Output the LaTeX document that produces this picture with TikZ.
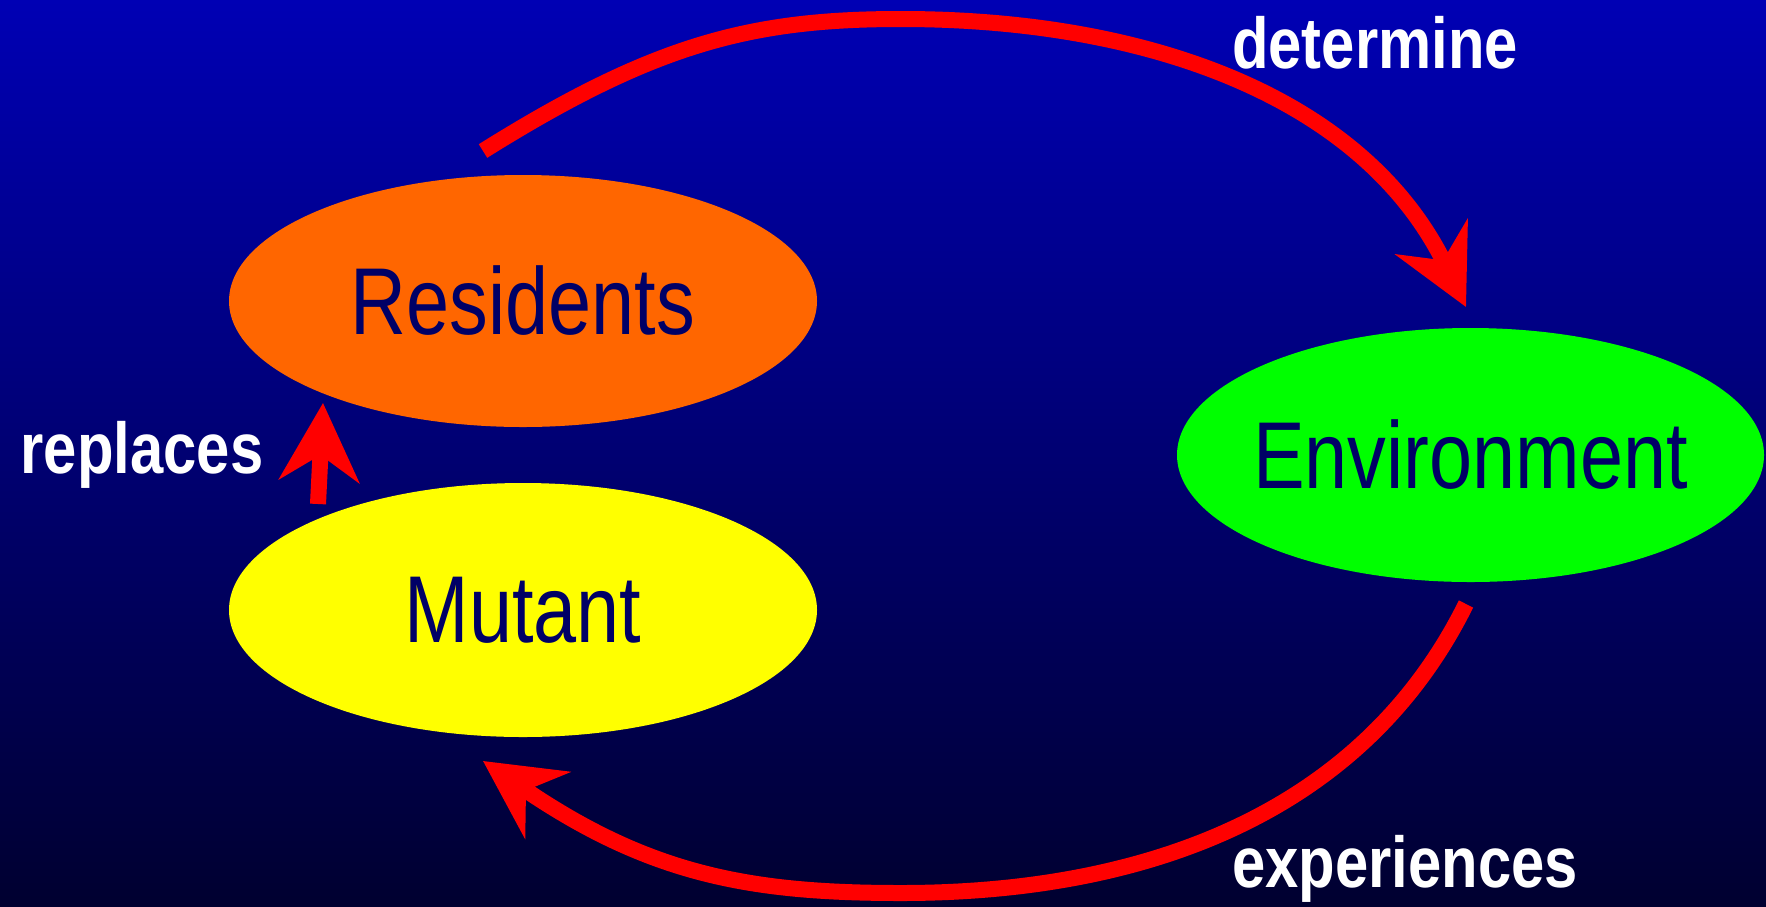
\documentclass[tikz,border=0pt]{standalone}
\usepackage{fontspec}
\usetikzlibrary{arrows.meta,shapes.geometric}
\newfontfamily\narrowsf[FakeStretch=0.815]{Liberation Sans}
\newfontfamily\narrowbf[FakeStretch=0.83]{Liberation Sans}
\definecolor{bgtop}{RGB}{0,0,180}
\definecolor{bgbot}{RGB}{0,0,48}
\definecolor{ink}{RGB}{0,0,102}
\definecolor{resorange}{RGB}{255,102,0}
\definecolor{envgreen}{RGB}{0,255,0}
\definecolor{mutyellow}{RGB}{255,255,0}
\definecolor{arrred}{RGB}{255,0,0}
\begin{document}
\begin{tikzpicture}[x=0.5pt,y=-0.5pt,
  blob/.style={ellipse, inner sep=0pt, text=ink, font=\narrowsf\fontsize{47.5}{50}\selectfont},
  lbl/.style={text=white, font=\narrowbf\bfseries\fontsize{36}{40}\selectfont, inner sep=0pt, anchor=base},
  flow/.style={draw=arrred, line width=8pt, -{Stealth[length=39pt,width=40pt,inset=13pt]}}]
\useasboundingbox (0,0) rectangle (1766,906);
\shade[top color=bgtop,bottom color=bgbot] (0,0) rectangle (1766,906);
\node[blob, fill=resorange, minimum width=294pt, minimum height=126pt] (res) at (523,301) {\makebox[0pt]{Residents}};
\node[blob, fill=mutyellow, minimum width=294pt, minimum height=127pt] (mut) at (523,610) {\makebox[0pt]{Mutant}};
\node[blob, fill=envgreen, minimum width=293.5pt, minimum height=127pt] (env) at (1470.5,455) {\makebox[0pt]{Environment}};
\coordinate (detStart) at (483,151);
\coordinate (detTop) at (901,19);
\coordinate (detEnd) at (1466,307);
\coordinate (expStart) at (1466,604);
\coordinate (expBot) at (901,893);
\coordinate (expEnd) at (483,761);
\coordinate (repStart) at (318,504);
\coordinate (repEnd) at (323,403);
\draw[flow] (detStart) .. controls (654,44) and (751,19) .. (detTop) .. controls (1151,19) and (1364,99) .. (detEnd);
\draw[flow] (expStart) .. controls (1364,810) and (1151,893) .. (expBot) .. controls (751,893) and (650,875) .. (expEnd);
\draw[flow] (repStart) -- (repEnd);
\node[lbl] (det) at (1375,68) {determine};
\node[lbl] (rep) at (142,473) {replaces};
\node[lbl] (exp) at (1405,887) {experiences};
\end{tikzpicture}
\end{document}
